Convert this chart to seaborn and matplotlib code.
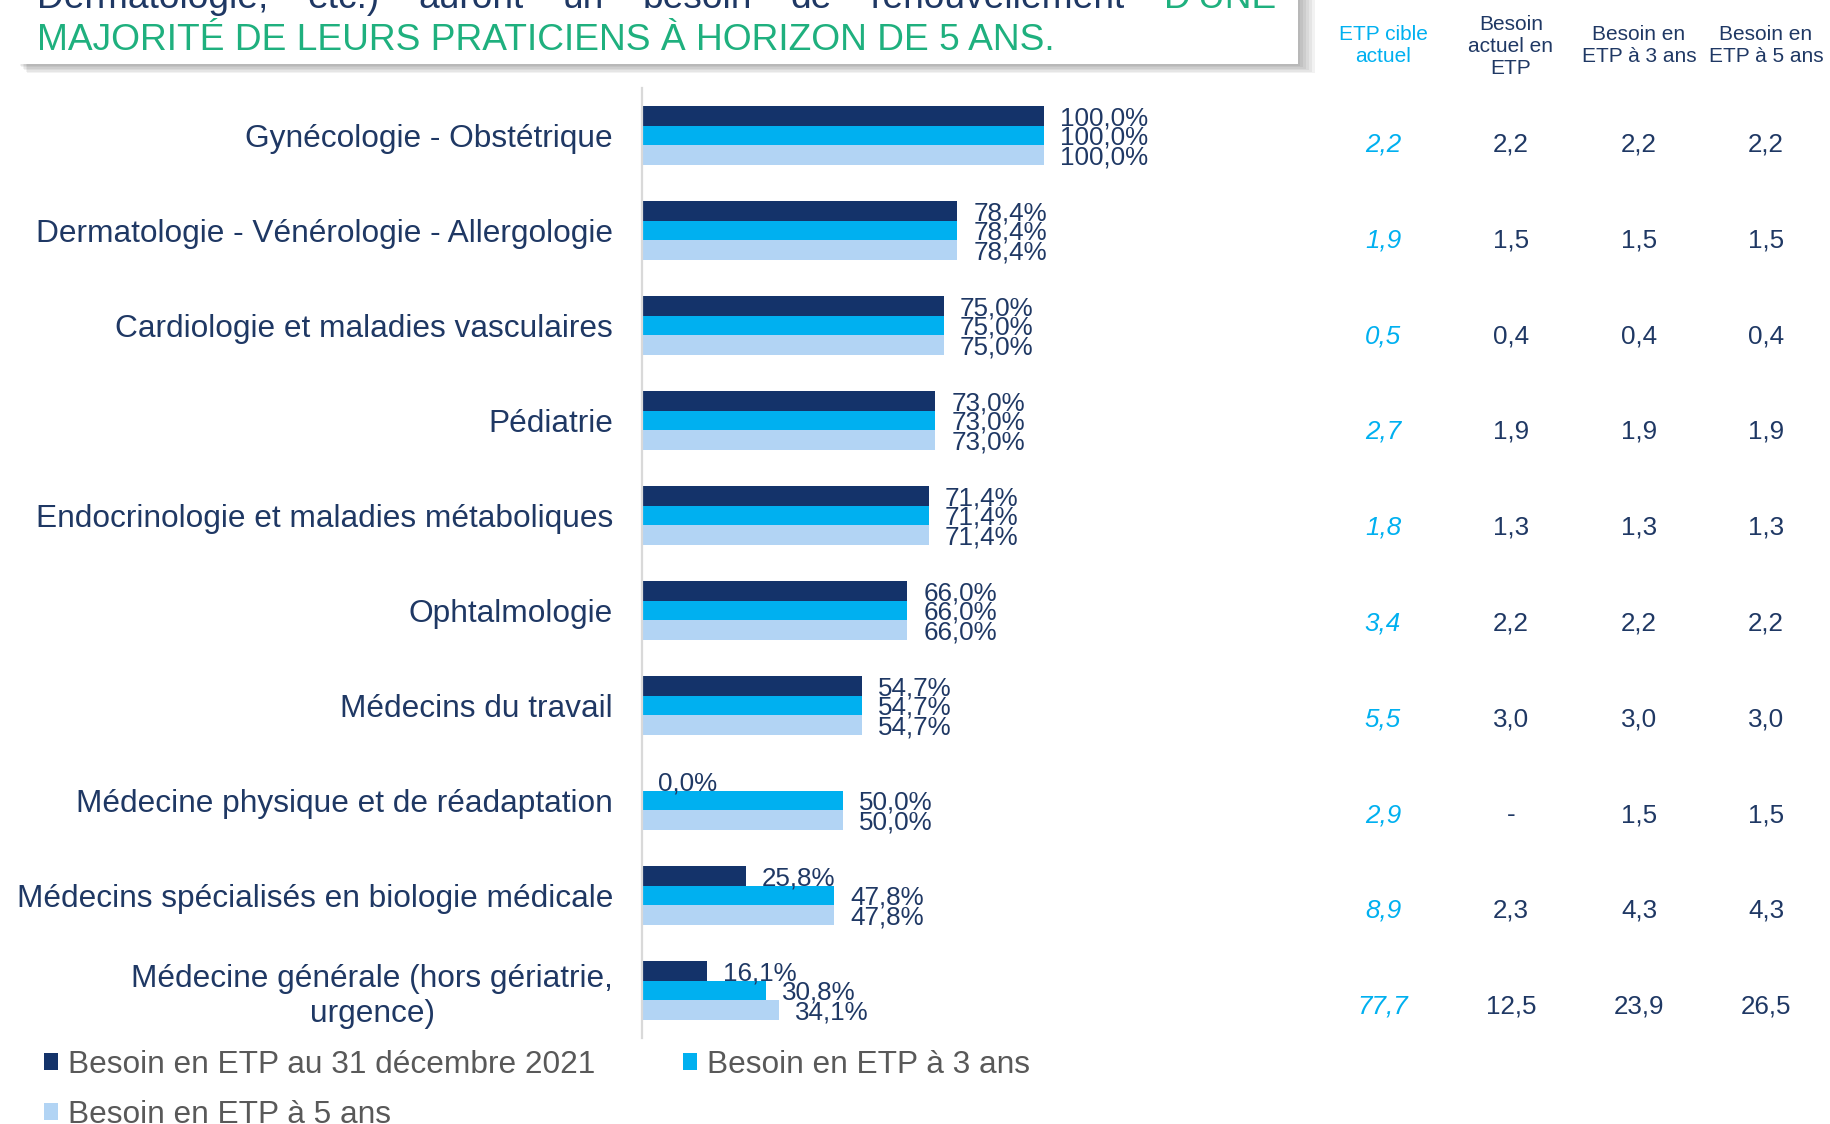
import matplotlib
matplotlib.use("Agg")
import matplotlib.pyplot as plt
import seaborn as sns
import pandas as pd
from matplotlib.patches import Rectangle, Patch

# ---------------- data ----------------
categories = [
    "Gynécologie - Obstétrique",
    "Dermatologie - Vénérologie - Allergologie",
    "Cardiologie et maladies vasculaires",
    "Pédiatrie",
    "Endocrinologie et maladies métaboliques",
    "Ophtalmologie",
    "Médecins du travail",
    "Médecine physique et de réadaptation",
    "Médecins spécialisés en biologie médicale",
    "Médecine générale (hors gériatrie,\nurgence)",
]
series_names = ["Besoin en ETP au 31 décembre 2021", "Besoin en ETP à 3 ans", "Besoin en ETP à 5 ans"]
besoin_2021 = [100.0, 78.4, 75.0, 73.0, 71.4, 66.0, 54.7, 0.0, 25.8, 16.1]
besoin_3ans = [100.0, 78.4, 75.0, 73.0, 71.4, 66.0, 54.7, 50.0, 47.8, 30.8]
besoin_5ans = [100.0, 78.4, 75.0, 73.0, 71.4, 66.0, 54.7, 50.0, 47.8, 34.1]

table_headers = ["ETP cible\nactuel", "Besoin\nactuel en\nETP", "Besoin en\nETP à 3 ans", "Besoin en\nETP à 5 ans"]
etp_cible = [2.2, 1.9, 0.5, 2.7, 1.8, 3.4, 5.5, 2.9, 8.9, 77.7]
etp_actuel = [2.2, 1.5, 0.4, 1.9, 1.3, 2.2, 3.0, None, 2.3, 12.5]
etp_3ans = [2.2, 1.5, 0.4, 1.9, 1.3, 2.2, 3.0, 1.5, 4.3, 23.9]
etp_5ans = [2.2, 1.5, 0.4, 1.9, 1.3, 2.2, 3.0, 1.5, 4.3, 26.5]

title_line1 = ["Dermatologie,", "etc.)", "auront", "un", "besoin", "de", "renouvellement", "D'UNE"]
title_line2 = "MAJORITÉ DE LEURS PRATICIENS À HORIZON DE 5 ANS."

# ---------------- style ----------------
NAVY = "#14336A"
CYAN = "#00B0F0"
LIGHT = "#B2D4F4"
TEXT_NAVY = "#1F3864"
GREEN = "#1FB07E"
GRAY = "#595959"

sns.set_theme(style="white")
plt.rcParams['font.family'] = ['Liberation Sans', 'DejaVu Sans']

W, H = 1830, 1124
fig = plt.figure(figsize=(W / 100, H / 100), dpi=100)


def fx(x):
    return x / W


def fy(y):
    return 1 - y / H


def fmt(v):
    return f"{v:.1f}".replace(".", ",")


# ---------------- bars ----------------
ax = fig.add_axes([fx(642), fy(1038), 402 / W, 950 / H])
df = pd.DataFrame({
    "cat": categories * 3,
    "val": besoin_2021 + besoin_3ans + besoin_5ans,
    "serie": sum([[s] * len(categories) for s in series_names], []),
})
colors = [NAVY, CYAN, LIGHT]
sns.barplot(data=df, y="cat", x="val", hue="serie", hue_order=series_names,
            order=categories, palette=dict(zip(series_names, colors)),
            saturation=1, width=0.63, orient="h", ax=ax, linewidth=0,
            legend=False, errorbar=None)
ax.set_xlim(0, 100)
ax.set_ylim(len(categories) - 0.5, -0.5)
ax.set_xlabel("")
ax.set_ylabel("")
ax.set_xticks([])
ax.set_yticks(range(len(categories)))
ax.set_yticklabels(categories, fontsize=22.8, color=TEXT_NAVY)
for lbl in ax.get_yticklabels():
    lbl.set_multialignment("center")
ax.tick_params(axis="y", length=0, pad=20.9)
for s in ["top", "right", "bottom"]:
    ax.spines[s].set_visible(False)
ax.spines["left"].set_color("#D9D9D9")
ax.spines["left"].set_linewidth(1.6)

for cont, vals in zip(ax.containers, [besoin_2021, besoin_3ans, besoin_5ans]):
    texts = ax.bar_label(cont, labels=[fmt(v) + "%" for v in vals], padding=11.5,
                         fontsize=18.7, color=TEXT_NAVY)
    for t in texts:
        t.set_va("center_baseline")

# ---------------- table on the right ----------------
col_x = [1383, 1511, 1639, 1766]
for j, hdr in enumerate(table_headers):
    fig.text(fx(col_x[j]), fy(46), hdr, ha="center", va="center", fontsize=15,
             color=CYAN if j == 0 else TEXT_NAVY, linespacing=1.2)
for j, col in enumerate([etp_cible, etp_actuel, etp_3ans, etp_5ans]):
    for i, v in enumerate(col):
        txt = "-" if v is None else fmt(v)
        fig.text(fx(col_x[j]), fy(144.5 + 95.8 * i), txt, ha="center", va="center",
                 fontsize=18.7, color=CYAN if j == 0 else TEXT_NAVY,
                 style="italic" if j == 0 else "normal")

# ---------------- title box ----------------
for k in range(6):
    d = k * 1.4
    fig.add_artist(Rectangle((fx(20 + d), fy(66 + d)), (1280 + 1.2 * d) / W, 100 / H,
                             transform=fig.transFigure, facecolor="#000000",
                             edgecolor="none", alpha=0.05, zorder=1))
fig.add_artist(Rectangle((fx(18), fy(64)), 1280 / W, 120 / H, transform=fig.transFigure,
                         facecolor="white", edgecolor="none", zorder=2))

renderer = fig.canvas.get_renderer()
words = []
for w in title_line1:
    t = fig.text(0, fy(8), w, fontsize=26.7, va="baseline", ha="left",
                 color=GREEN if w == "D'UNE" else TEXT_NAVY, zorder=3)
    words.append(t)
widths = [t.get_window_extent(renderer).width for t in words]
x0, x1 = 37, 1276
gap = (x1 - x0 - sum(widths)) / (len(words) - 1)
xc = x0
for t, wdt in zip(words, widths):
    t.set_x(fx(xc))
    xc += wdt + gap
fig.text(fx(37), fy(50), title_line2, fontsize=26.7, va="baseline", ha="left",
         color=GREEN, zorder=3)

# ---------------- legend ----------------
handles = [Patch(facecolor=c, edgecolor="none") for c in colors]
order = [0, 2, 1]
fig.legend([handles[i] for i in order], [series_names[i] for i in order],
           loc="upper left", bbox_to_anchor=(fx(44), fy(1050)), ncol=2,
           frameon=False, fontsize=22.8, labelcolor=GRAY, handlelength=0.44,
           handleheight=0.44, handletextpad=0.32, columnspacing=2.78,
           borderpad=0, borderaxespad=0, labelspacing=0.62)

fig.savefig("out.png", dpi=100)
